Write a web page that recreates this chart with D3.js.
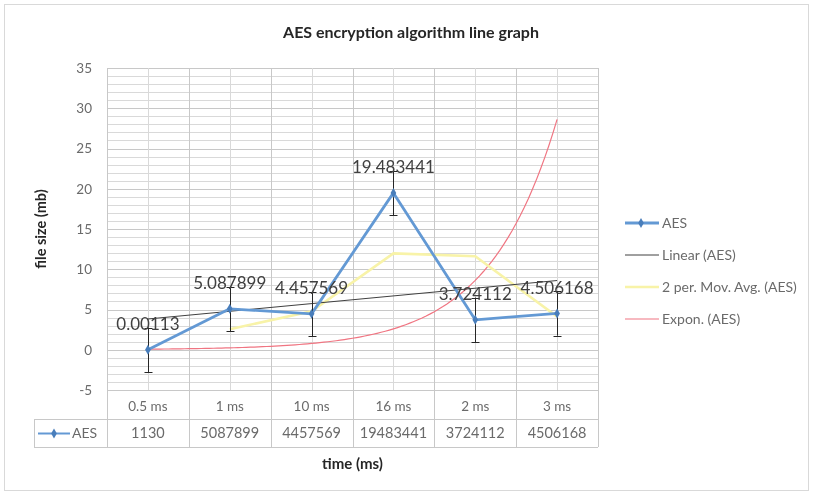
<!DOCTYPE html>
<html>
<head>
<meta charset="utf-8">
<script src="https://cdn.jsdelivr.net/npm/d3@7/dist/d3.min.js"></script>
<style>
  html, body { margin: 0; padding: 0; background: #fff; }
  svg { display: block; }
  text { font-family: Lato, "Open Sans", "Liberation Sans", sans-serif; }
</style>
</head>
<body>
<svg id="chart" width="813" height="495"></svg>
<script>
// ---- data ----
const categories = ["0.5 ms", "1 ms", "10 ms", "16 ms", "2 ms", "3 ms"];
const aesValues = [0.00113, 5.087899, 4.457569, 19.483441, 3.724112, 4.506168];
const aesLabels = ["0.00113", "5.087899", "4.457569", "19.483441", "3.724112", "4.506168"];
const tableValues = ["1130", "5087899", "4457569", "19483441", "3724112", "4506168"];
const yTicks = [-5, 0, 5, 10, 15, 20, 25, 30, 35];
const errorAmount = 2.76; // standard error shown as +/- bars
const legendItems = ["AES", "Linear (AES)", "2 per. Mov. Avg. (AES)", "Expon. (AES)"];

const svg = d3.select("#chart");
const W = 813, H = 495;
const plot = { left: 107, right: 598, top: 68, bottom: 390 };
const tableRow1 = 419, tableRow2 = 447, tableLeft = 34;

const colors = {
  aes: "#6499d4",
  marker: "#4a7ebb",
  linear: "#404040",
  movAvg: "#f8f3a8",
  expon: "#f07582",
  grid: "#d9d9d9",
  gridMajor: "#c8c8c8",
  text: "#6b6b6b",
  dark: "#404040"
};

// soft rendering of the whole drawing
const defs = svg.append("defs");
defs.append("filter").attr("id", "soft").attr("x", 0).attr("y", 0).attr("width", 1).attr("height", 1)
  .append("feGaussianBlur").attr("stdDeviation", 0.45);
const root = svg.append("g").attr("filter", "url(#soft)");

// outer chart frame
root.append("rect").attr("x", 4.5).attr("y", 4.5).attr("width", W - 9).attr("height", 486)
  .attr("fill", "#fff").attr("stroke", "#d9d9d9");

const x = d3.scaleBand().domain(categories).range([plot.left, plot.right]);
const y = d3.scaleLinear().domain([-5, 35]).range([plot.bottom, plot.top]);
const xi = d3.scaleLinear().domain([0, categories.length - 1])
  .range([x(categories[0]) + x.bandwidth() / 2, x(categories[categories.length - 1]) + x.bandwidth() / 2]);
const cx = c => x(c) + x.bandwidth() / 2;

// minor horizontal gridlines every unit, major every 5
const gridG = root.append("g");
gridG.selectAll("line.minor").data(d3.range(-5, 35.01, 1)).join("line")
  .attr("x1", plot.left).attr("x2", plot.right)
  .attr("y1", d => Math.round(y(d)) + 0.5).attr("y2", d => Math.round(y(d)) + 0.5)
  .attr("stroke", d => (d % 5 === 0 ? colors.gridMajor : colors.grid)).attr("stroke-width", 1);

// vertical gridlines at category centers
gridG.selectAll("line.center").data(categories).join("line")
  .attr("x1", d => Math.round(cx(d)) + 0.5).attr("x2", d => Math.round(cx(d)) + 0.5)
  .attr("y1", plot.top).attr("y2", plot.bottom)
  .attr("stroke", colors.grid);

// category boundaries extend through the data table
const bounds = categories.map(c => x(c)).concat([plot.right]);
gridG.selectAll("line.bound").data(bounds).join("line")
  .attr("x1", d => Math.round(d) + 0.5).attr("x2", d => Math.round(d) + 0.5)
  .attr("y1", plot.top).attr("y2", tableRow2)
  .attr("stroke", colors.gridMajor);

// data table rules
[tableRow1, tableRow2].forEach(ty => {
  gridG.append("line").attr("x1", tableLeft).attr("x2", plot.right)
    .attr("y1", ty + 0.5).attr("y2", ty + 0.5).attr("stroke", colors.gridMajor);
});
gridG.append("line").attr("x1", tableLeft + 0.5).attr("x2", tableLeft + 0.5)
  .attr("y1", tableRow1).attr("y2", tableRow2).attr("stroke", colors.gridMajor);

// y axis tick labels
const yAxis = d3.axisLeft(y).tickValues(yTicks).tickSize(0).tickPadding(15).tickFormat(d => String(d));
const yg = root.append("g").attr("transform", `translate(${plot.left},0)`).call(yAxis);
yg.select(".domain").remove();
yg.selectAll("text").attr("fill", colors.text).attr("font-size", 13.5);

// category labels (first table row)
const xAxis = d3.axisBottom(x).tickSize(0).tickPadding(0);
const xg = root.append("g").attr("transform", `translate(0,${plot.bottom})`).call(xAxis);
xg.select(".domain").remove();
xg.selectAll("text").attr("fill", colors.text).attr("font-size", 13.5)
  .attr("dy", null).attr("y", 18).attr("dominant-baseline", "middle");

// table values row
root.append("g").selectAll("text").data(categories).join("text")
  .attr("x", d => cx(d)).attr("y", (tableRow1 + tableRow2) / 2 + 1)
  .attr("text-anchor", "middle").attr("dominant-baseline", "middle")
  .attr("fill", colors.text).attr("font-size", 14.5)
  .text((d, i) => tableValues[i]);

// diamond marker path
const diamond = d3.symbol().type(d3.symbolDiamond).size(28);

// table legend key
const keyY = (tableRow1 + tableRow2) / 2 + 0.5;
root.append("line").attr("x1", 38).attr("x2", 70).attr("y1", keyY).attr("y2", keyY)
  .attr("stroke", colors.aes).attr("stroke-width", 2);
root.append("path").attr("d", diamond).attr("transform", `translate(54,${keyY})`).attr("fill", colors.marker);
root.append("text").attr("x", 72).attr("y", keyY + 1).attr("dominant-baseline", "middle")
  .attr("fill", colors.text).attr("font-size", 14).text("AES");

// trendlines fitted to the series (least squares, as in the spreadsheet)
const idx = aesValues.map((_, i) => i + 1);
function fitLine(xs, ys) {
  const mx = d3.mean(xs), my = d3.mean(ys);
  const sxy = d3.sum(xs, (v, i) => (v - mx) * (ys[i] - my));
  const sxx = d3.sum(xs, v => (v - mx) * (v - mx));
  const b = sxy / sxx;
  return { a: my - b * mx, b };
}
const lin = fitLine(idx, aesValues);
const expFit = fitLine(idx, aesValues.map(v => Math.log(v)));
const samples = d3.range(0, 5.001, 0.05);

const line = d3.line().x(d => d[0]).y(d => d[1]);

// exponential trend
root.append("path")
  .attr("d", line(samples.map(t => [xi(t), y(Math.exp(expFit.a) * Math.exp(expFit.b * (t + 1)))])))
  .attr("fill", "none").attr("stroke", colors.expon).attr("stroke-width", 1.2);

// two-period moving average
const movAvg = aesValues.slice(1).map((v, i) => [i + 1, (v + aesValues[i]) / 2]);
root.append("path")
  .attr("d", line(movAvg.map(d => [xi(d[0]), y(d[1])])))
  .attr("fill", "none").attr("stroke", colors.movAvg).attr("stroke-width", 2.5);

// linear trend
root.append("path")
  .attr("d", line([0, 5].map(t => [xi(t), y(lin.a + lin.b * (t + 1))])))
  .attr("fill", "none").attr("stroke", colors.linear).attr("stroke-width", 1);

// main series
root.append("path")
  .attr("d", line(aesValues.map((v, i) => [cx(categories[i]), y(v)])))
  .attr("fill", "none").attr("stroke", colors.aes).attr("stroke-width", 2.8)
  .attr("stroke-linejoin", "round");

// error bars
const eg = root.append("g").attr("stroke", "#262626").attr("stroke-width", 1);
aesValues.forEach((v, i) => {
  const px = Math.round(cx(categories[i])) + 0.5;
  const y0 = y(v - errorAmount), y1 = y(v + errorAmount);
  eg.append("line").attr("x1", px).attr("x2", px).attr("y1", y0).attr("y2", y1);
  [y0, y1].forEach(yy => eg.append("line").attr("x1", px - 4).attr("x2", px + 4)
    .attr("y1", Math.round(yy) + 0.5).attr("y2", Math.round(yy) + 0.5));
});

// markers
root.append("g").selectAll("path").data(aesValues).join("path")
  .attr("d", diamond)
  .attr("transform", (d, i) => `translate(${cx(categories[i])},${y(d)})`)
  .attr("fill", colors.marker);

// data labels
root.append("g").selectAll("text").data(aesValues).join("text")
  .attr("x", (d, i) => cx(categories[i])).attr("y", d => y(d) - 24)
  .attr("text-anchor", "middle").attr("dominant-baseline", "middle")
  .attr("fill", colors.dark).attr("font-size", 17)
  .text((d, i) => aesLabels[i]);

// legend
const lg = root.append("g").attr("transform", "translate(625,223)");
const legendStyles = [
  { color: colors.aes, width: 2.8, marker: true },
  { color: colors.linear, width: 1 },
  { color: colors.movAvg, width: 2.5 },
  { color: colors.expon, width: 1.2 }
];
legendItems.forEach((name, i) => {
  const g = lg.append("g").attr("transform", `translate(0,${i * 32})`);
  const s = legendStyles[i];
  g.append("line").attr("x1", 0).attr("x2", 34).attr("stroke", s.color).attr("stroke-width", s.width);
  if (s.marker) g.append("path").attr("d", diamond).attr("transform", "translate(16,0)").attr("fill", colors.marker);
  g.append("text").attr("x", 37).attr("y", 1).attr("dominant-baseline", "middle")
    .attr("fill", colors.text).attr("font-size", 14).text(name);
});

// titles
root.append("text").attr("x", 411).attr("y", 34).attr("text-anchor", "middle")
  .attr("dominant-baseline", "middle").attr("font-size", 16).attr("font-weight", "bold")
  .attr("fill", "#262626").text("AES encryption algorithm line graph");
root.append("text").attr("transform", `translate(42,${(plot.top + plot.bottom) / 2}) rotate(-90)`)
  .attr("text-anchor", "middle").attr("dominant-baseline", "middle")
  .attr("font-size", 14.5).attr("font-weight", "bold").attr("fill", "#262626").text("file size (mb)");
root.append("text").attr("x", (plot.left + plot.right) / 2).attr("y", 465)
  .attr("text-anchor", "middle").attr("dominant-baseline", "middle")
  .attr("font-size", 15).attr("font-weight", "bold").attr("fill", "#262626").text("time (ms)");
</script>
</body>
</html>
